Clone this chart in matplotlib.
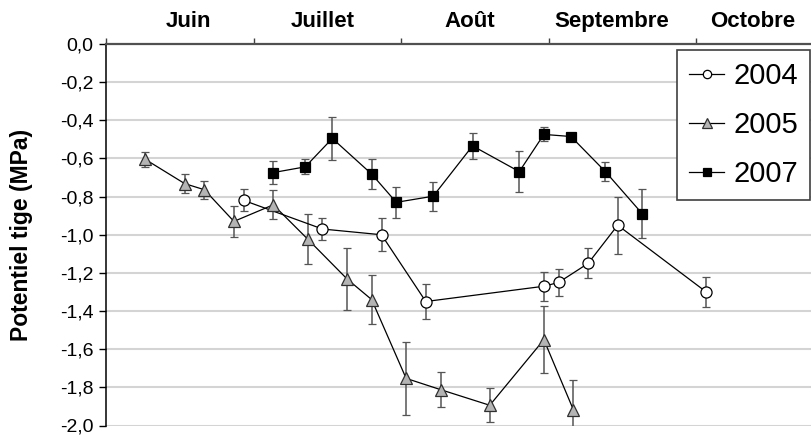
import matplotlib
matplotlib.use("Agg")
import matplotlib.pyplot as plt
from matplotlib.ticker import FixedLocator, NullFormatter

plt.rcParams["font.family"] = ["Liberation Sans", "DejaVu Sans"]

# day counted from 1 June (30 days per month on the axis)
months = ["Juin", "Juillet", "Août", "Septembre", "Octobre"]

days_2004 = [28, 44, 56, 65, 89, 92, 98, 104, 122]
psi_2004 = [-0.82, -0.97, -1.00, -1.35, -1.27, -1.25, -1.15, -0.95, -1.30]
err_2004 = [0.058, 0.057, 0.087, 0.091, 0.075, 0.069, 0.079, 0.15, 0.08]

days_2005 = [8, 16, 20, 26, 34, 41, 49, 54, 61, 68, 78, 89, 95]
psi_2005 = [-0.605, -0.732, -0.764, -0.93, -0.843, -1.023, -1.232, -1.34,
            -1.753, -1.812, -1.894, -1.55, -1.918]
err_2005 = [0.038, 0.048, 0.048, 0.081, 0.076, 0.132, 0.161, 0.13, 0.19,
            0.09, 0.09, 0.175, 0.156]

days_2007 = [34, 40.5, 46, 54, 59, 66.5, 74.5, 84, 89, 94.5, 101.5, 109]
psi_2007 = [-0.674, -0.644, -0.495, -0.682, -0.83, -0.798, -0.534, -0.669,
            -0.474, -0.485, -0.669, -0.89]
err_2007 = [0.061, 0.04, 0.114, 0.079, 0.081, 0.077, 0.07, 0.108, 0.037,
            0.02, 0.048, 0.129]

fig = plt.figure(figsize=(8.11, 4.37), dpi=100)
# axes runs past the right edge (original picture is cropped there)
ax = fig.add_axes([106 / 811, 1 - 425.5 / 437, 738 / 811, 381.5 / 437])

common = dict(color="black", lw=0.9, ecolor="#555555", elinewidth=1.1,
              capsize=3, capthick=1.1, mew=0.9, zorder=3)
e04 = ax.errorbar(days_2004, psi_2004, yerr=err_2004, marker="o", ms=8,
                  mfc="white", mec="black", **common)
e05 = ax.errorbar(days_2005, psi_2005, yerr=err_2005, marker="^", ms=9,
                  mfc="#b4b4b4", mec="#303030", **common)
e07 = ax.errorbar(days_2007, psi_2007, yerr=err_2007, marker="s", ms=7.5,
                  mfc="black", mec="black", **common)

ax.set_xlim(0, 150)
ax.set_ylim(-2.0, 0.0)

# x axis on top, month boundaries as ticks, names in between
ax.xaxis.tick_top()
ax.xaxis.set_major_locator(FixedLocator([0, 30, 60, 90, 120, 150]))
ax.xaxis.set_major_formatter(NullFormatter())
ax.xaxis.set_minor_locator(FixedLocator([16.7, 44.1, 74.0, 102.8, 131.5]))
ax.set_xticklabels(months, minor=True, fontsize=16, fontweight="bold")
ax.tick_params(axis="x", which="major", direction="out", length=4,
               width=1, color="#404040", top=True, bottom=False)
ax.tick_params(axis="x", which="minor", length=0, pad=8.5, top=True, bottom=False)

yt = [-2.0 + 0.2 * i for i in range(11)]
ax.set_yticks(yt)
ax.set_yticklabels([f"{v:.1f}".replace(".", ",") for v in yt], fontsize=14)
ax.tick_params(axis="y", direction="out", length=5, width=1, pad=4)

for v in yt[:-1]:
    ax.axhline(v, color="#d4d4d4", lw=1.5, zorder=0)

ax.spines["right"].set_visible(False)
ax.spines["bottom"].set_visible(False)
ax.spines["top"].set_color("#505050")
ax.spines["top"].set_linewidth(1.6)
ax.spines["left"].set_linewidth(1.1)

ax.set_ylabel("Potentiel tige (MPa)", fontsize=16.5, fontweight="bold")
ax.yaxis.set_label_coords(-0.099, 0.5)

leg = ax.legend([e04[0], e05[0], e07[0]], ["2004", "2005", "2007"],
                loc="upper left", bbox_to_anchor=(0.774, 0.985), fontsize=21,
                frameon=True, fancybox=False, framealpha=1, edgecolor="#404040",
                handlelength=1.2, handletextpad=0.3, labelspacing=0.72,
                borderpad=0.42, borderaxespad=0, markerscale=0.75)
leg.get_frame().set_linewidth(1.2)

fig.savefig("out.png", dpi=100)
